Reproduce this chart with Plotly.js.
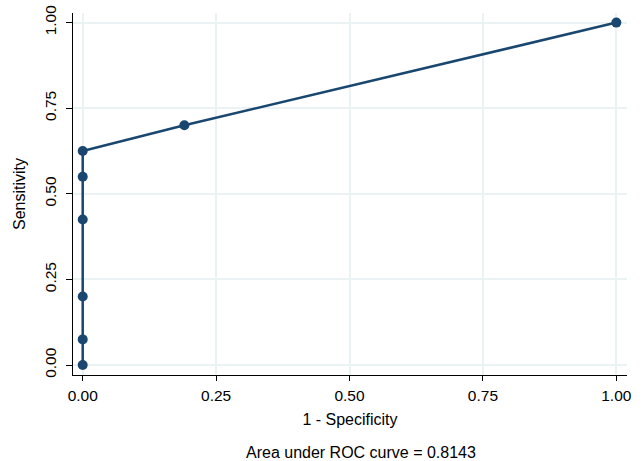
<!DOCTYPE html>
<html><head><meta charset="utf-8">
<script src="https://cdn.plot.ly/plotly-3.0.1.min.js"></script>
<style>html,body{margin:0;padding:0;background:#fff}#chart{width:644px;height:461px}</style>
</head><body><div id="chart"></div>
<script>
const oneMinusSpec = [0, 0, 0, 0, 0, 0, 0.1905, 1];
const sensitivity = [0, 0.075, 0.2, 0.425, 0.55, 0.625, 0.7, 1];
const tickVals = [0, 0.25, 0.5, 0.75, 1];
const tickText = ["0.00", "0.25", "0.50", "0.75", "1.00"];
const aucNote = "Area under ROC curve = 0.8143";

const font = {family: "Liberation Sans, Arial, sans-serif", size: 16, color: "#000"};
const tickFont = {family: "Liberation Sans, Arial, sans-serif", size: 15.5, color: "#000"};
const navy = "#1a476f";

Plotly.newPlot("chart", [{
  x: oneMinusSpec, y: sensitivity, type: "scatter", mode: "lines+markers",
  line: {color: navy, width: 2.5}, marker: {color: navy, size: 10}, cliponaxis: false
}], {
  width: 644, height: 461,
  margin: {l: 73, r: 17, t: 13, b: 86},
  paper_bgcolor: "#fff", plot_bgcolor: "#fff",
  font: font, showlegend: false,
  xaxis: {
    range: [-0.0182, 1.020], tickvals: tickVals, ticktext: tickText, tickfont: tickFont,
    showgrid: true, gridcolor: "#eaf2f3", gridwidth: 2, zeroline: false,
    showline: true, linecolor: "#000", linewidth: 1,
    ticks: "outside", ticklen: 5, tickcolor: "#000", ticklabelstandoff: 1,
    title: {text: "1 - Specificity", font: font, standoff: 11}
  },
  yaxis: {
    range: [-0.029, 1.028], tickvals: tickVals, ticktext: tickText, tickangle: -90, tickfont: tickFont,
    showgrid: true, gridcolor: "#eaf2f3", gridwidth: 2, zeroline: false,
    showline: true, linecolor: "#000", linewidth: 1,
    ticks: "outside", ticklen: 6, tickcolor: "#000", ticklabelstandoff: 4,
    title: {text: "Sensitivity", font: font, standoff: 12}
  },
  annotations: [{
    text: aucNote, xref: "paper", yref: "paper", x: 0.5, y: 0, yshift: -77, xshift: 11,
    xanchor: "center", yanchor: "middle", showarrow: false, font: font
  }]
}, {staticPlot: true});
</script></body></html>
